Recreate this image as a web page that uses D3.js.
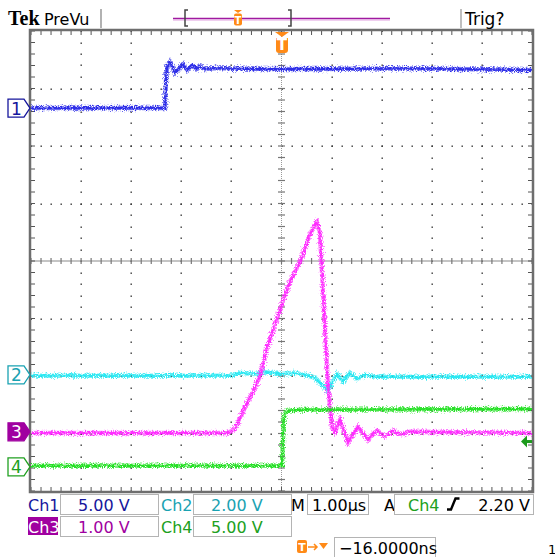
<!DOCTYPE html>
<html>
<head>
<meta charset="utf-8">
<script src="https://cdnjs.cloudflare.com/ajax/libs/d3/7.8.5/d3.min.js"></script>
<style>
body { margin: 0; background: #fff; }
svg { display: block; font-family: "DejaVu Sans", sans-serif; }
</style>
</head>
<body>
<script>
// time in µs (trigger at 0), levels in volts
var ch1Time  = [-5.0, -2.325, -2.305, -2.285, -2.226, -2.126, -1.966, -1.886, -1.786, -1.687, -1.627, -1.527, -1.327, -0.5, 0.8, 2.5, 5.0];
var ch1Volts = [0, 0, 2.43, 3.65, 4.00, 3.04, 3.83, 3.30, 3.74, 3.39, 3.65, 3.39, 3.48, 3.39, 3.39, 3.45, 3.30];

var ch2Time  = [-5.0, -1.028, -0.828, -0.529, -0.329, -0.030, 0.269, 0.469, 0.669, 0.808, 0.928, 1.028, 1.108, 1.228, 1.367, 1.507, 1.667, 1.866, 5.0];
var ch2Volts = [-0.03, -0.03, 0.07, 0.03, 0.10, 0.03, 0.07, 0.0, -0.10, -0.35, -0.56, -0.21, 0.03, -0.24, 0.07, -0.14, 0.0, -0.07, -0.07];

var ch3Time  = [-5.0, -1.068, -0.928, -0.828, -0.689, -0.569, -0.429, -0.289, -0.030, 0.170, 0.369, 0.569, 0.649, 0.709, 0.768, 0.828, 0.928, 1.008, 1.068, 1.168, 1.327, 1.527, 1.727, 1.906, 2.066, 2.226, 2.365, 2.565, 5.0];
var ch3Volts = [-0.02, -0.02, 0.05, 0.24, 0.50, 0.70, 0.97, 1.46, 2.12, 2.61, 2.96, 3.43, 3.58, 3.65, 3.46, 2.47, 0.78, 0.09, 0.0, 0.21, -0.19, 0.09, -0.14, 0.03, -0.09, 0.02, -0.05, 0.0, -0.02];

var ch4Time  = [-5.0, 0.01, 0.03, 0.05, 0.11, 0.369, 5.0];
var ch4Volts = [0.09, 0.09, 2.35, 4.52, 4.87, 4.96, 5.04];

// scope settings
var chNames   = ['Ch1', 'Ch2', 'Ch3', 'Ch4'];
var chVoltDiv = [5, 2, 1, 5];
var chOffset  = [2.66, -1.98, -2.97, -3.58];   // divisions
var timeDiv = '1.00µs';
var trigChannel = 3;
var trigLevel = 2.20;
var trigDelay = '−16.0000ns';

var traceColor = ['#2a2ae8', '#25e8f2', '#ff2cff', '#22e022'];
var labelColor = ['#16169c', '#1aa2b2', '#a000a0', '#20a020'];

var W = 555, H = 557;
var svg = d3.select('body').append('svg').attr('width', W).attr('height', H);

var defs = svg.append('defs');
var f = defs.append('filter').attr('id', 'noise').attr('filterUnits', 'userSpaceOnUse')
  .attr('x', 0).attr('y', 0).attr('width', W).attr('height', H);
f.append('feTurbulence').attr('type', 'fractalNoise').attr('baseFrequency', '0.9').attr('numOctaves', 2).attr('seed', 3).attr('result', 'n');
f.append('feDisplacementMap').attr('in', 'SourceGraphic').attr('in2', 'n').attr('scale', 7)
  .attr('xChannelSelector', 'R').attr('yChannelSelector', 'G');

//scales
var x = d3.scaleLinear().domain([-5, 5]).range([31, 532]);
var y = d3.scaleLinear().domain([-4, 4]).range([491, 31]);

//graticule
var grid = svg.append('g');
var dots = [];
d3.range(-4, 5).forEach(function (i) {
  if (i === 0) return;
  d3.range(-20, 21).forEach(function (j) { dots.push([x(i), y(j / 5)]); });
});
d3.range(-3, 4).forEach(function (k) {
  if (k === 0) return;
  d3.range(-25, 26).forEach(function (m) { dots.push([x(m / 5), y(k)]); });
});
grid.selectAll('.dot').data(dots).enter().append('rect')
  .attr('x', function (d) { return Math.round(d[0]) - 0.5; })
  .attr('y', function (d) { return Math.round(d[1]) - 0.5; })
  .attr('width', 1.4).attr('height', 1.4).attr('fill', '#333');

// center cross
grid.append('line').attr('x1', x(-5)).attr('x2', x(5)).attr('y1', y(0)).attr('y2', y(0))
  .attr('stroke', '#8a8a8a').attr('stroke-width', 1.2);
grid.append('line').attr('x1', x(0)).attr('x2', x(0)).attr('y1', y(-4)).attr('y2', y(4))
  .attr('stroke', '#9a9a9a').attr('stroke-width', 1).attr('stroke-dasharray', '1,1');
grid.selectAll('.ht').data(d3.range(-25, 26)).enter().append('line')
  .attr('x1', function (d) { return x(d / 5); }).attr('x2', function (d) { return x(d / 5); })
  .attr('y1', y(0) - 3).attr('y2', y(0) + 3).attr('stroke', '#777').attr('stroke-width', 1.2);
grid.selectAll('.vt').data(d3.range(-20, 21)).enter().append('line')
  .attr('x1', x(0) - 3.5).attr('x2', x(0) + 3.5)
  .attr('y1', function (d) { return y(d / 5); }).attr('y2', function (d) { return y(d / 5); })
  .attr('stroke', '#777').attr('stroke-width', 1.2);

// border with minor ticks
grid.selectAll('.bt').data(d3.range(-25, 26)).enter().append('g').each(function (d) {
  var g = d3.select(this);
  g.append('line').attr('x1', x(d / 5)).attr('x2', x(d / 5)).attr('y1', y(4)).attr('y2', y(4) + 4).attr('stroke', '#555');
  g.append('line').attr('x1', x(d / 5)).attr('x2', x(d / 5)).attr('y1', y(-4)).attr('y2', y(-4) - 4).attr('stroke', '#555');
});
grid.selectAll('.bl').data(d3.range(-20, 21)).enter().append('g').each(function (d) {
  var g = d3.select(this);
  g.append('line').attr('x1', x(-5)).attr('x2', x(-5) + 4).attr('y1', y(d / 5)).attr('y2', y(d / 5)).attr('stroke', '#555');
  g.append('line').attr('x1', x(5)).attr('x2', x(5) - 4).attr('y1', y(d / 5)).attr('y2', y(d / 5)).attr('stroke', '#555');
});
grid.append('rect').attr('x', x(-5) - 1).attr('y', y(4) - 1).attr('width', x(5) - x(-5) + 2).attr('height', y(-4) - y(4) + 2)
  .attr('fill', 'none').attr('stroke', '#6e6e6e').attr('stroke-width', 2.5);

//traces
var traces = [[ch1Time, ch1Volts], [ch2Time, ch2Volts], [ch3Time, ch3Volts], [ch4Time, ch4Volts]];
var clip = defs.append('clipPath').attr('id', 'scr');
clip.append('rect').attr('x', x(-5)).attr('y', y(4)).attr('width', x(5) - x(-5)).attr('height', y(-4) - y(4));
var tg = svg.append('g').attr('clip-path', 'url(#scr)');

traces.forEach(function (tr, c) {
  var pts = tr[0].map(function (t, i) { return [t, tr[1][i]]; });
  var line = d3.line()
    .x(function (d) { return x(d[0]); })
    .y(function (d) { return y(chOffset[c] + d[1] / chVoltDiv[c]); });
  tg.append('path').attr('d', line(pts)).attr('fill', 'none')
    .attr('stroke', traceColor[c]).attr('stroke-width', 4.5).attr('opacity', 0.6)
    .attr('filter', 'url(#noise)');
  tg.append('path').attr('d', line(pts)).attr('fill', 'none')
    .attr('stroke', traceColor[c]).attr('stroke-width', 2.2).attr('opacity', 0.95)
    .attr('filter', 'url(#noise)');
});

//channel markers on the left edge
chNames.forEach(function (n, c) {
  var my = y(chOffset[c]);
  var filled = c === 2;
  svg.append('path')
    .attr('d', 'M8,' + (my - 9) + 'L24,' + (my - 9) + 'L30,' + my + 'L24,' + (my + 9) + 'L8,' + (my + 9) + 'Z')
    .attr('fill', filled ? labelColor[c] : '#fff').attr('stroke', labelColor[c]).attr('stroke-width', 1.3);
  svg.append('text').attr('x', 16.5).attr('y', my + 6.5).attr('text-anchor', 'middle')
    .attr('font-size', 17).attr('fill', filled ? '#fff' : labelColor[c]).text(n.slice(2));
});

// trigger level arrow (right edge)
var ty = y(chOffset[trigChannel] + trigLevel / chVoltDiv[trigChannel]);
svg.append('path').attr('d', 'M521,' + ty + 'L527,' + (ty - 6) + 'L527,' + (ty + 6) + 'Z').attr('fill', '#1c9a1c');
svg.append('rect').attr('x', 526).attr('y', ty - 1.5).attr('width', 6).attr('height', 3).attr('fill', '#1c9a1c');

// trigger position marker
var orange = '#ff8a17';
function tMark(cx, top, w, h) {
  svg.append('path').attr('d', 'M' + (cx - w / 2) + ',' + top + 'L' + (cx + w / 2) + ',' + top + 'L' + cx + ',' + (top + 5) + 'Z').attr('fill', orange);
  svg.append('path')
    .attr('d', 'M' + (cx - w / 2 + 1) + ',' + (top + 6) + 'h' + (w - 2) + 'v' + (h - 4) + 'q0,3 -3,3 h' + (-(w - 8)) + 'q-3,0 -3,-3Z')
    .attr('fill', orange);
  svg.append('text').attr('x', cx).attr('y', top + 6 + h * 0.78).attr('text-anchor', 'middle')
    .attr('font-size', h * 0.95).attr('font-weight', 'bold').attr('fill', '#fff').text('T');
}
tMark(x(0) + 0.5, 32, 14, 16);

//top bar
svg.append('text').attr('x', 8).attr('y', 25).style('font-family', '"Liberation Serif", serif')
  .attr('font-weight', 'bold').attr('font-size', 20).attr('fill', '#000').text('Tek');
svg.append('text').attr('x', 44).attr('y', 25).attr('font-size', 16).attr('fill', '#000').text('PreVu');
svg.append('line').attr('x1', 101).attr('x2', 101).attr('y1', 9).attr('y2', 28).attr('stroke', '#999').attr('stroke-width', 1.5);
svg.append('line').attr('x1', 461).attr('x2', 461).attr('y1', 9).attr('y2', 28).attr('stroke', '#aaa').attr('stroke-width', 1.5);
svg.append('text').attr('x', 465).attr('y', 25).attr('font-size', 17).attr('fill', '#000').text('Trig?');
svg.append('line').attr('x1', 173).attr('x2', 390).attr('y1', 18.5).attr('y2', 18.5).attr('stroke', '#a01aa0').attr('stroke-width', 1.5);
svg.append('line').attr('x1', 173).attr('x2', 390).attr('y1', 20).attr('y2', 20).attr('stroke', '#e0a0e0').attr('stroke-width', 1);
[[185, 1], [291, -1]].forEach(function (b) {
  svg.append('path').attr('d', 'M' + (b[0] + 3 * b[1]) + ',10 h' + (-3 * b[1]) + ' v16 h' + (3 * b[1]))
    .attr('fill', 'none').attr('stroke', '#444').attr('stroke-width', 1.5);
});
svg.append('path').attr('d', 'M234,10 L242,10 L238,13Z').attr('fill', orange);
svg.append('rect').attr('x', 234).attr('y', 13.5).attr('width', 8).attr('height', 12).attr('rx', 2).attr('fill', orange);
svg.append('text').attr('x', 238).attr('y', 23.5).attr('text-anchor', 'middle').attr('font-size', 10).attr('font-weight', 'bold').attr('fill', '#fff').text('T');

//readouts
var fmt = d3.format('.2f');
function box(bx, by, bw, bh) {
  svg.append('rect').attr('x', bx + 0.5).attr('y', by + 0.5).attr('width', bw).attr('height', bh)
    .attr('fill', '#fff').attr('stroke', '#b4b4b4').attr('stroke-width', 1);
}
var rowY = [494, 516];
chNames.forEach(function (n, c) {
  var col = c % 2, row = Math.floor(c / 2);
  var lx = col === 0 ? 28 : 161;
  var bx = col === 0 ? 60 : 193;
  var by = rowY[row];
  box(bx, by, 98, 20);
  if (c === 2) {
    svg.append('rect').attr('x', 28).attr('y', by + 1).attr('width', 30).attr('height', 18).attr('fill', labelColor[c]);
  }
  svg.append('text').attr('x', lx).attr('y', by + 17).attr('font-size', 16)
    .attr('fill', c === 2 ? '#fff' : labelColor[c]).text(n);
  svg.append('text').attr('x', bx + 18).attr('y', by + 17).attr('font-size', 16)
    .attr('fill', labelColor[c]).text(fmt(chVoltDiv[c]) + ' V');
});
svg.append('text').attr('x', 291).attr('y', 511).attr('font-size', 16).attr('fill', '#000').text('M');
box(307, 494, 61, 20);
svg.append('text').attr('x', 312).attr('y', 511).attr('font-size', 16).attr('fill', '#000').text(timeDiv);
svg.append('text').attr('x', 384).attr('y', 511).attr('font-size', 16).attr('fill', '#000').text('A');
box(394, 494, 139, 20);
svg.append('text').attr('x', 408).attr('y', 511).attr('font-size', 16).attr('fill', labelColor[trigChannel]).text(chNames[trigChannel]);
svg.append('path').attr('d', 'M447,509.5 L451,509.5 L455.5,498.5 L459.5,498.5').attr('fill', 'none').attr('stroke', '#000').attr('stroke-width', 2.4);
svg.append('text').attr('x', 530).attr('y', 511).attr('text-anchor', 'end').attr('font-size', 16).attr('fill', '#000').text(fmt(trigLevel) + ' V');

// delay readout
svg.append('rect').attr('x', 297).attr('y', 540).attr('width', 10).attr('height', 13).attr('rx', 2).attr('fill', orange);
svg.append('text').attr('x', 302).attr('y', 551).attr('text-anchor', 'middle').attr('font-size', 11).attr('font-weight', 'bold').attr('fill', '#fff').text('T');
svg.append('path').attr('d', 'M308,547 h9 M314,544 l3,3 l-3,3').attr('fill', 'none').attr('stroke', orange).attr('stroke-width', 1.5);
svg.append('path').attr('d', 'M319,543 L328,543 L323.5,549Z').attr('fill', orange);
box(334, 537, 101, 20);
svg.append('text').attr('x', 339).attr('y', 554).attr('font-size', 16).attr('fill', '#000').text(trigDelay);
svg.append('text').attr('x', 548).attr('y', 554).attr('font-size', 13).attr('fill', '#000').text('1');
</script>
</body>
</html>
